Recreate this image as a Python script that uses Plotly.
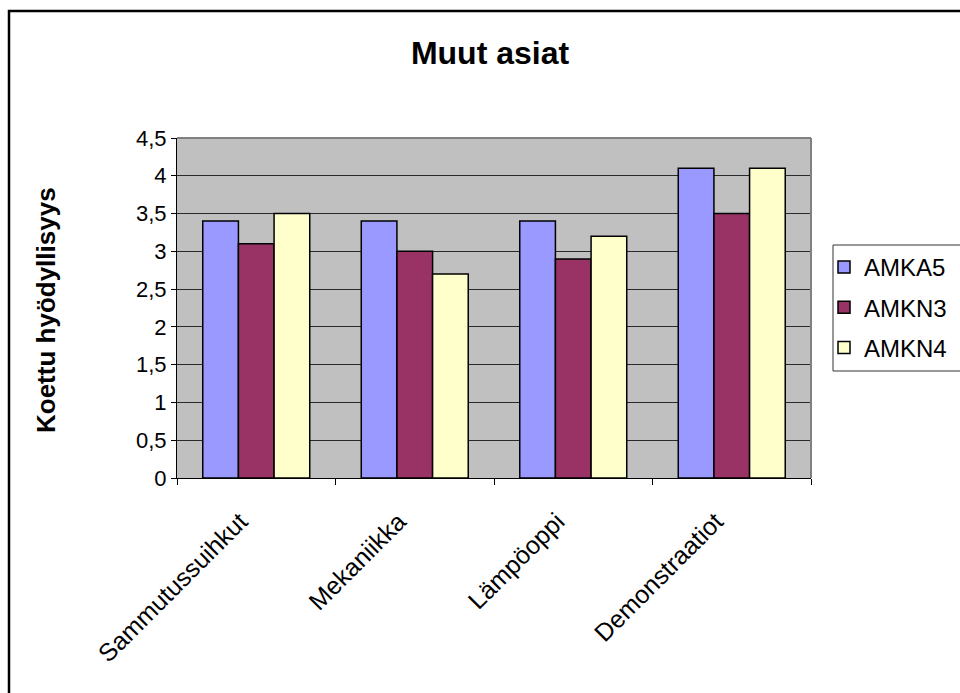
import plotly.graph_objects as go

# Data
categories = ["Sammutussuihkut", "Mekaniikka", "Lämpöoppi", "Demonstraatiot"]
series_names = ["AMKA5", "AMKN3", "AMKN4"]
amka5 = [3.4, 3.4, 3.4, 4.1]
amkn3 = [3.1, 3.0, 2.9, 3.5]
amkn4 = [3.5, 2.7, 3.2, 4.1]
y_tick_vals = [0, 0.5, 1, 1.5, 2, 2.5, 3, 3.5, 4, 4.5]
y_tick_text = ["0", "0,5", "1", "1,5", "2", "2,5", "3", "3,5", "4", "4,5"]

series_values = [amka5, amkn3, amkn4]
colors = ["#9999FF", "#993366", "#FFFFCC"]

W, H = 960, 693
L, R, T, B = 177, 149, 138, 215
pw, ph = W - L - R, H - T - B

def px_x(x):
    return (x - L) / pw

def px_y(y):
    return (H - B - y) / ph

fig = go.Figure()
for name, vals, col in zip(series_names, series_values, colors):
    fig.add_trace(go.Bar(
        name=name, x=categories, y=vals, legendgroup=name,
        marker=dict(color=col, line=dict(color="#000000", width=1.5)),
    ))

font = "Liberation Sans, Arial, sans-serif"

fig.update_layout(
    width=W, height=H,
    margin=dict(l=L, r=R, t=T, b=B, autoexpand=False),
    paper_bgcolor="#FFFFFF",
    plot_bgcolor="#C0C0C0",
    font=dict(family=font, size=21, color="#000000"),
    barmode="group",
    bargap=0.325,
    bargroupgap=0,
    title=dict(text="<b>Muut asiat</b>", x=490 / W, xanchor="center",
               y=1 - 53 / H, yanchor="middle",
               font=dict(family=font, size=32, color="#000000")),
    showlegend=True,
    legend=dict(x=px_x(824), xanchor="left", y=px_y(245), yanchor="top",
                bgcolor="rgba(0,0,0,0)", borderwidth=0,
                traceorder="grouped", tracegroupgap=6,
                font=dict(family=font, size=24, color="#000000")),
    xaxis=dict(
        type="category", tickangle=-45, tickson="boundaries",
        ticks="outside", ticklen=6, tickcolor="#000000",
        showline=True, linecolor="#000000", linewidth=1,
        showgrid=False, tickfont=dict(family=font, size=25),
        ticklabelstandoff=18, ticklabelshift=-16,
    ),
    yaxis=dict(
        range=[0, 4.5], tickvals=y_tick_vals, ticktext=y_tick_text,
        ticks="outside", ticklen=5, tickcolor="#000000",
        showline=True, linecolor="#000000", linewidth=1,
        showgrid=True, gridcolor="#2a2a2a", gridwidth=1,
        zeroline=False, tickfont=dict(family=font, size=22),
    ),
    annotations=[dict(
        text="<b>Koettu hyödyllisyys</b>", textangle=-90,
        xref="paper", yref="paper", x=px_x(46), y=px_y(310),
        xanchor="center", yanchor="middle", showarrow=False,
        font=dict(family=font, size=26, color="#000000"),
    )],
    shapes=[
        # plot area top and right edges
        dict(type="line", xref="paper", yref="paper", x0=0, x1=1, y0=1, y1=1,
             line=dict(color="#808080", width=2), layer="above"),
        dict(type="line", xref="paper", yref="paper", x0=1, x1=1, y0=0, y1=1,
             line=dict(color="#808080", width=2), layer="above"),
        # legend box
        dict(type="rect", xref="paper", yref="paper",
             x0=px_x(833), x1=px_x(1000), y0=px_y(371), y1=px_y(245),
             line=dict(color="#333333", width=1), layer="above"),
        # chart frame
        dict(type="rect", xref="paper", yref="paper",
             x0=px_x(9), x1=px_x(1100), y0=px_y(800), y1=px_y(11),
             line=dict(color="#000000", width=2.5), layer="above"),
    ],
)

fig.write_html("out.html")
